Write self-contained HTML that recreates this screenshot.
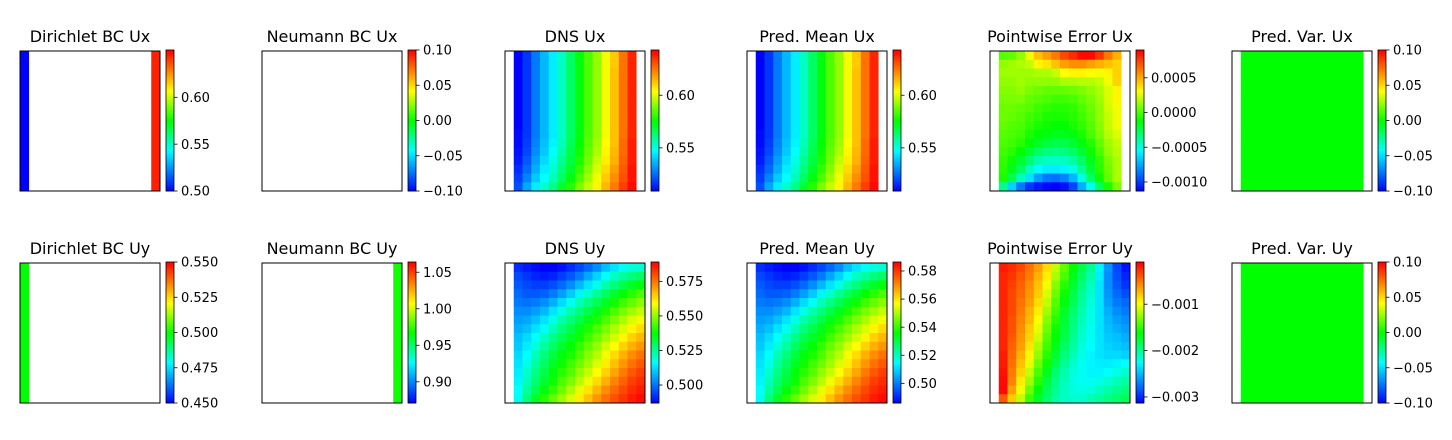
<!DOCTYPE html>
<html><head><meta charset="utf-8"><style>
html,body{margin:0;padding:0;background:#fff}
svg{display:block;font-family:"DejaVu Sans","Liberation Sans",sans-serif}
</style></head><body>
<svg id="fig" width="1452" height="440" viewBox="0 0 1452 440" xmlns="http://www.w3.org/2000/svg"></svg>
<script>
// ---- data (levels are % of each panel's colour range) ----
const dnsUxLevels = [
[0,6,14,21,27,34,42,49,56,62,70,77,87,96],[0,6,14,21,27,34,42,49,56,62,70,77,87,96],
[0,6,14,21,27,34,42,49,56,62,70,78,87,96],[0,6,14,21,27,34,42,49,56,62,70,78,87,96],
[0,6,14,21,27,34,42,49,56,62,70,78,87,96],[0,6,14,21,27,34,42,49,56,62,70,78,87,96],
[0,6,14,21,27,34,42,49,56,62,70,78,87,96],[0,6,14,21,27,34,42,49,56,62,70,78,87,96],
[0,6,14,21,27,34,42,49,56,62,70,78,87,96],[1,6,14,21,27,34,42,49,56,62,70,78,87,96],
[1,7,15,22,28,35,43,50,57,63,71,78,88,97],[2,8,16,23,29,36,44,51,58,64,72,79,88,97],
[3,10,18,25,31,38,45,52,59,66,73,80,89,97],[5,12,20,27,33,40,47,54,61,68,75,82,90,98],
[7,15,23,29,35,42,49,56,63,70,77,84,91,98],[9,19,27,33,39,46,53,60,66,72,79,86,93,99]];
const predUxLevels = dnsUxLevels.map(r => r.slice());
const errUxLevels = [
[57,58,62,70,78,82,86,92,95,99,99,94,86,80],[62,63,64,66,72,74,78,82,84,84,82,80,78,76],
[63,63,63,63,64,64,66,71,72,72,71,70,72,76],[62,62,63,62,62,62,62,64,64,65,65,66,70,76],
[61,61,62,60,59,58,58,58,59,60,62,64,68,72],[60,60,60,58,57,56,55,55,56,58,60,63,68,72],
[59,59,58,57,55,54,53,53,54,56,59,62,67,70],[59,58,57,55,54,52,52,52,53,55,58,62,66,70],
[58,57,56,54,52,51,50,50,52,54,57,61,66,70],[57,56,55,52,50,49,48,48,49,52,56,60,65,68],
[56,55,53,50,47,45,44,44,46,49,53,58,63,66],[55,53,50,46,42,40,39,40,42,46,51,56,62,65],
[54,51,46,41,36,34,34,34,37,42,48,54,60,64],[53,48,42,34,29,27,27,28,31,38,46,53,59,64],
[52,44,34,26,18,14,13,15,21,31,42,51,58,64],[38,24,14,6,3,1,0,2,8,20,30,42,52,60]];
const dnsUyLevels = [
[5,3,1,0,0,2,5,8,12,16,22,26,30,32,33],[8,6,4,3,4,7,10,14,19,24,29,34,37,40,42],
[10,8,7,7,9,12,16,21,26,31,36,40,44,47,49],[12,10,10,11,14,18,23,28,33,38,42,46,50,53,56],
[14,13,14,16,20,25,30,35,39,43,47,51,55,58,61],[16,16,18,21,26,31,36,40,44,48,52,56,60,63,66],
[18,19,22,26,31,36,40,44,48,52,56,60,64,68,70],[20,22,26,30,35,40,44,48,52,56,60,64,68,72,75],
[22,25,29,34,39,43,47,51,55,59,63,67,72,76,79],[23,27,32,37,42,46,50,54,58,62,67,71,76,80,83],
[25,29,35,40,45,49,52,56,61,65,70,75,80,84,87],[26,31,37,42,47,51,55,59,63,68,73,78,83,87,90],
[27,33,39,44,49,53,57,62,66,71,76,81,86,90,93],[28,35,41,46,51,56,60,65,70,75,80,85,89,93,95],
[29,37,43,49,54,59,64,69,74,79,84,88,92,95,97],[30,40,47,53,58,63,68,73,78,83,87,91,94,97,99]];
const predUyLevels = dnsUyLevels.map(r => r.slice());
const errUyLevels = [
[97,95,92,87,82,75,66,58,50,44,38,28,17,8,2],[96,94,90,86,80,73,64,56,48,42,36,27,16,9,4],
[96,93,89,84,78,70,61,53,46,40,34,26,16,10,6],[96,92,88,83,77,68,59,51,44,38,33,26,17,12,9],
[96,92,87,82,75,66,57,49,43,37,32,26,18,14,12],[96,92,86,80,73,63,55,47,41,36,31,26,20,16,14],
[96,91,85,79,71,61,53,46,40,35,31,26,21,18,16],[96,91,84,77,69,59,51,45,39,34,30,26,22,20,18],
[96,90,83,76,67,57,50,44,38,33,30,26,23,22,20],[96,89,82,74,64,55,48,42,37,32,29,26,24,23,22],
[97,88,80,72,62,53,46,40,35,31,28,26,25,25,24],[97,87,78,69,59,51,44,38,33,30,28,27,27,28,29],
[98,86,76,66,56,48,41,36,32,30,28,28,29,31,33],[99,85,73,63,53,45,39,35,31,30,30,31,33,35,37],
[99,82,70,59,50,43,38,34,32,31,32,34,36,38,40],[90,77,66,55,47,41,37,34,33,33,35,37,39,41,43]];
const dirUxBoundary = [0.50, 0.645];
const neuUyBoundary = [0.97];
const dirUyBoundary = [0.50];
const predVarValue = [0.0];

const titles = ["Dirichlet BC Ux","Neumann BC Ux","DNS Ux","Pred. Mean Ux","Pointwise Error Ux","Pred. Var. Ux",
                "Dirichlet BC Uy","Neumann BC Uy","DNS Uy","Pred. Mean Uy","Pointwise Error Uy","Pred. Var. Uy"];
const ranges = [[0.50,0.6505],[-0.1,0.1],[0.509,0.643],[0.509,0.643],[-0.00113,0.0009],[-0.1,0.1],
                [0.45,0.55],[0.871,1.064],[0.487,0.589],[0.486,0.5864],[-0.00313,-0.00009],[-0.1,0.1]];
const ticks = [[0.50,0.55,0.60],[-0.10,-0.05,0.00,0.05,0.10],[0.55,0.60],[0.55,0.60],[-0.0010,-0.0005,0.0000,0.0005],[-0.10,-0.05,0.00,0.05,0.10],
               [0.450,0.475,0.500,0.525,0.550],[0.90,0.95,1.00,1.05],[0.500,0.525,0.550,0.575],[0.50,0.52,0.54,0.56,0.58],[-0.003,-0.002,-0.001],[-0.10,-0.05,0.00,0.05,0.10]];
const tickDecimals = [2,2,2,2,4,2,3,2,3,2,3,2];

const NS = "http://www.w3.org/2000/svg";
const fig = document.getElementById("fig");
function el(tag, attrs, parent){ const e=document.createElementNS(NS,tag); for(const k in attrs) e.setAttribute(k,attrs[k]); (parent||fig).appendChild(e); return e; }
const cStops=[0,0.29,0.5,0.71,1], cHues=[240,180,120,60,0];
function cmap(t){ t=Math.max(0,Math.min(1,t)); let k=0; while(k<cStops.length-2 && t>cStops[k+1]) k++;
  const f=(t-cStops[k])/(cStops[k+1]-cStops[k]); const h=cHues[k]+f*(cHues[k+1]-cHues[k]);
  return "hsl("+h.toFixed(1)+",100%,50%)"; }
const colX = [20,262,505,747,990,1232];
const rowY = [51,263];
const S = 140, N = 16, C = S/N;

function levelsToGrid(levels, c0, r){ const g=[]; for(let i=0;i<N;i++){ const row=new Array(N).fill(null);
    if(levels) levels[i].forEach((v,j)=>{ row[c0+j]= r[0]+v/100*(r[1]-r[0]); }); g.push(row);} return g; }
function colGrid(vals, cols){ const g=[]; for(let i=0;i<N;i++){ const row=new Array(N).fill(null); cols.forEach((c,k)=>row[c]=vals[k]); g.push(row);} return g; }
function fillGrid(v, c0, c1){ const g=[]; for(let i=0;i<N;i++){ const row=new Array(N).fill(null); for(let j=c0;j<=c1;j++) row[j]=v; g.push(row);} return g; }

const grids = [
  colGrid(dirUxBoundary,[0,15]), fillGrid(null,0,-1), levelsToGrid(dnsUxLevels,1,ranges[2]), levelsToGrid(predUxLevels,1,ranges[3]),
  levelsToGrid(errUxLevels,1,ranges[4]), fillGrid(predVarValue[0],1,14),
  colGrid(dirUyBoundary,[0]), colGrid(neuUyBoundary,[15]), levelsToGrid(dnsUyLevels,1,ranges[8]), levelsToGrid(predUyLevels,1,ranges[9]),
  levelsToGrid(errUyLevels,1,ranges[10]), fillGrid(predVarValue[0],1,14)
];

function fmt(v,d){ let s=Math.abs(v).toFixed(d); return (v<0?"\u2212":"")+s; }

for(let p=0;p<12;p++){
  const x0=colX[p%6], y0=rowY[Math.floor(p/6)], r=ranges[p];
  const norm = v => (v-r[0])/(r[1]-r[0]);
  const g = el("g",{});
  
  
  const t = el("text",{x:x0+S/2,y:y0-9,"text-anchor":"middle","font-size":"16",fill:"#000"},g);
  t.textContent = titles[p];
  
  
  const grid = grids[p];
  for(let i=0;i<N;i++) for(let j=0;j<N;j++){
    const v=grid[i][j]; if(v===null) continue;
    const c = el("rect",{x:(x0+j*C).toFixed(2),y:(y0+i*C).toFixed(2),width:(C+0.3).toFixed(2),height:(C+0.3).toFixed(2),fill:cmap(norm(v))},g);
    
    
  }
  const fr = el("rect",{x:x0,y:y0,width:S,height:S,fill:"none",stroke:"#000","stroke-width":"1"},g);
  
  
  const cx=x0+S+6, cw=8, cy=y0-1, ch=S+1;
  const cb = el("g",{},g);
  
  
  const steps=70;
  for(let k=0;k<steps;k++){
    el("rect",{x:cx,y:(cy+ch-(k+1)*ch/steps).toFixed(2),width:cw,height:(ch/steps+0.4).toFixed(2),fill:cmap((k+0.5)/steps)},cb);
  }
  el("rect",{x:cx,y:cy,width:cw,height:ch,fill:"none",stroke:"#000","stroke-width":"0.8"},cb);
  ticks[p].forEach(tv=>{
    const ty = cy+ch - norm(tv)*ch;
    el("line",{x1:cx+cw,x2:cx+cw+3.5,y1:ty,y2:ty,stroke:"#000","stroke-width":"0.8"},cb);
    const tl = el("text",{x:cx+cw+7,y:ty+4.6,"font-size":"13",fill:"#000"},cb);
    tl.textContent = fmt(tv,tickDecimals[p]);
    
    
  });
}
</script>
</body></html>
